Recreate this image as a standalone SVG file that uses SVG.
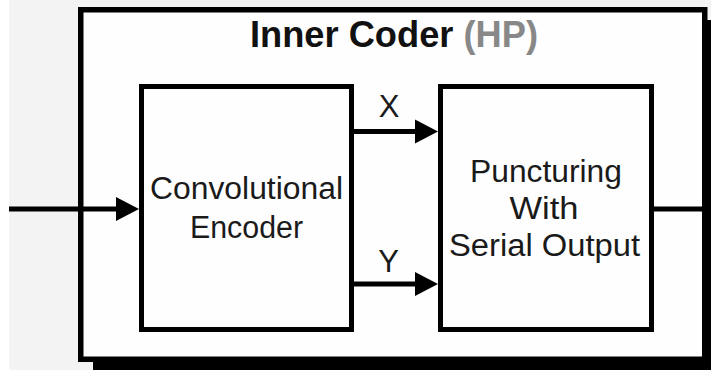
<svg xmlns="http://www.w3.org/2000/svg" width="711" height="370" viewBox="0 0 711 370">
  <defs>
    <style>
      .box { fill: #fefefe; stroke: #000; stroke-width: 5; }
      .wire { stroke: #000; stroke-width: 5; fill: none; }
      .head { fill: #000; }
      .lbl { font-family: "Liberation Sans", Arial, sans-serif; font-size: 31px; fill: #1a1a1a; text-anchor: middle; }
      .title { font-family: "Liberation Sans", Arial, sans-serif; font-size: 36px; font-weight: bold; fill: #111; }
    </style>
  </defs>

  <!-- page background -->
  <rect x="0" y="0" width="711" height="370" fill="#f3f3f3"/>
  <rect x="0" y="0" width="9" height="370" fill="#ffffff"/>

  <!-- enclosing block with drop shadow -->
  <g id="inner-coder">
    <rect x="93" y="20" width="640" height="360" fill="#000"/>
    <rect x="80.75" y="9.75" width="624" height="349.5" fill="#fefefe" stroke="#000" stroke-width="5.5"/>
    <text class="title" x="250" y="46.5" textLength="288" lengthAdjust="spacingAndGlyphs">Inner Coder <tspan fill="#888888">(HP)</tspan></text>
  </g>

  <g id="conv-encoder">
    <rect class="box" x="141.5" y="86.5" width="210" height="243"/>
    <text class="lbl" x="246.5" y="199" textLength="193" lengthAdjust="spacingAndGlyphs">Convolutional</text>
    <text class="lbl" x="246.5" y="238" textLength="113" lengthAdjust="spacingAndGlyphs">Encoder</text>
  </g>

  <g id="puncturing">
    <rect class="box" x="440.5" y="86.5" width="211" height="243"/>
    <text class="lbl" x="546" y="181.5" textLength="152" lengthAdjust="spacingAndGlyphs">Puncturing</text>
    <text class="lbl" x="544" y="219" textLength="69" lengthAdjust="spacingAndGlyphs">With</text>
    <text class="lbl" x="544.5" y="256" textLength="191" lengthAdjust="spacingAndGlyphs">Serial Output</text>
  </g>

  <!-- signal paths -->
  <g id="connectors">
    <line class="wire" x1="9" y1="209" x2="118" y2="209"/>
    <polygon class="head" points="116,197 139,209 116,221"/>

    <line class="wire" x1="354" y1="131.5" x2="416" y2="131.5"/>
    <polygon class="head" points="415,119.5 438,131.5 415,143.5"/>
    <text class="lbl" x="389" y="116.5">X</text>

    <line class="wire" x1="354" y1="284" x2="416" y2="284"/>
    <polygon class="head" points="415,272 438,284 415,296"/>
    <text class="lbl" x="388.5" y="271.5">Y</text>

    <line class="wire" x1="654" y1="209" x2="703" y2="209"/>
  </g>
</svg>
